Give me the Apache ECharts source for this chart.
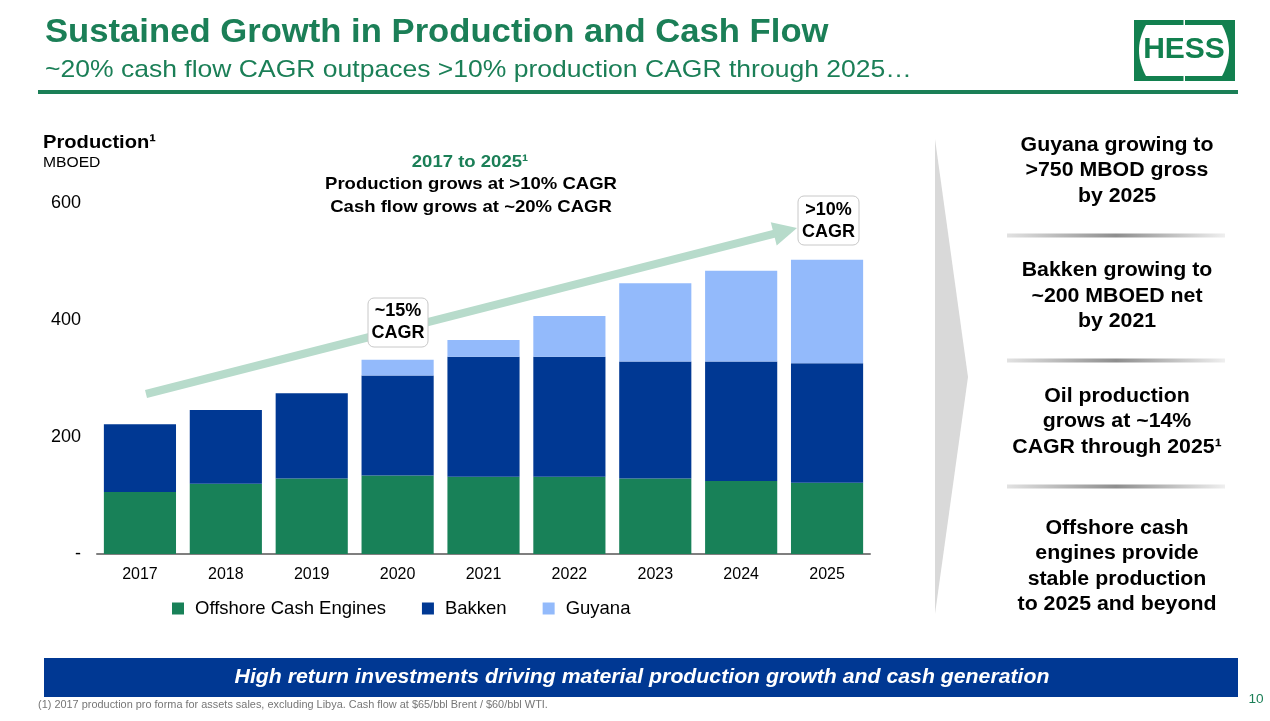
<!DOCTYPE html>
<html>
<head>
<meta charset="utf-8">
<script src="https://cdn.jsdelivr.net/npm/echarts@6/dist/echarts.min.js"></script>
<style>
html,body{margin:0;padding:0;background:#fff;}
#c{width:1270px;height:721px;}
</style>
</head>
<body>
<div id="c"></div>
<script>
const years = ['2017','2018','2019','2020','2021','2022','2023','2024','2025'];
const offshore = [106,120,129,134,132,132,129,125,122];
const bakken = [116,126,146,171,205,205,200,204,204];
const guyana = [0,0,0,27,29,70,134,155,177];
const yTicks = [0,200,400,600];
const seriesNames = ['Offshore Cash Engines','Bakken','Guyana'];

const FF = "'Liberation Sans', Arial, sans-serif";
const GREEN = '#1B7F57';
const BAR_GREEN = '#188158';
const BAR_BLUE = '#003893';
const BAR_LIGHT = '#93BAFB';

function txt(x, y, text, opt) {
  opt = opt || {};
  return {
    type: 'text', x: x, y: y, z: opt.z || 20,
    scaleX: opt.sx || 1.0, scaleY: 1,
    style: {
      text: text,
      font: (opt.italic ? 'italic ' : '') + (opt.bold ? 'bold ' : '') + (opt.size || 16) + 'px ' + FF,
      fill: opt.color || '#000',
      align: opt.align || 'left', textAlign: opt.align || 'left',
      verticalAlign: 'middle', textVerticalAlign: 'middle',
      lineHeight: opt.lh || undefined
    }
  };
}

// logo inner barrel shape points (decoration)
function barrel() {
  const pts = [];
  const top = 25, bot = 76, xl = 1146, xr = 1222, bulge = 7;
  pts.push([xl, top], [xr, top]);
  for (let i = 1; i < 20; i++) {
    const t = i / 20, y = top + (bot - top) * t;
    pts.push([xr + bulge * 4 * t * (1 - t), y]);
  }
  pts.push([xr, bot], [xl, bot]);
  for (let i = 19; i > 0; i--) {
    const t = i / 20, y = top + (bot - top) * t;
    pts.push([xl - bulge * 4 * t * (1 - t), y]);
  }
  return pts;
}

// arrow geometry (decoration)
const tip = [797, 228], start = [146, 394];
const dx = tip[0]-start[0], dy = tip[1]-start[1], L = Math.hypot(dx, dy);
const ux = dx/L, uy = dy/L, nx = -uy, ny = ux;
const hl = 24, hw = 12;
const bx = tip[0]-hl*ux, by = tip[1]-hl*uy;

const graphics = [
  // title
  txt(45, 32.5, 'Sustained Growth in Production and Cash Flow', {bold:true, size:33, color:GREEN, sx:1.05}),
  txt(45, 70, '~20% cash flow CAGR outpaces >10% production CAGR through 2025\u2026', {size:24, color:GREEN, sx:1.105}),
  {type:'rect', shape:{x:38, y:90, width:1200, height:4}, style:{fill:GREEN}},
  // logo
  {type:'rect', shape:{x:1134, y:20, width:101, height:61}, style:{fill:'#12804F'}},
  {type:'polygon', shape:{points: barrel()}, style:{fill:'#fff'}},
  {type:'rect', shape:{x:1183.5, y:20, width:1.5, height:5}, style:{fill:'#fff'}},
  {type:'rect', shape:{x:1183.5, y:76, width:1.5, height:5}, style:{fill:'#fff'}},
  txt(1184, 50, 'HESS', {bold:true, size:30, color:'#12804F', align:'center', sx:1.0}),
  // y-axis title
  txt(43, 143, 'Production\u00B9', {bold:true, size:19, sx:1.06}),
  txt(43, 163, 'MBOED', {size:14.5, sx:1.08}),
  // annotation
  txt(470, 162, '2017 to 2025\u00B9', {bold:true, size:17, color:GREEN, align:'center', sx:1.09}),
  txt(471, 184.5, 'Production grows at >10% CAGR', {bold:true, size:17, align:'center', sx:1.09}),
  txt(471, 207, 'Cash flow grows at ~20% CAGR', {bold:true, size:17, align:'center', sx:1.09}),
  // arrow
  {type:'line', z:5, shape:{x1:start[0], y1:start[1], x2:bx+2*ux, y2:by+2*uy}, style:{stroke:'#B7DBCB', lineWidth:8}},
  {type:'polygon', z:5, shape:{points:[[tip[0],tip[1]],[bx+hw*nx,by+hw*ny],[bx-hw*nx,by-hw*ny]]}, style:{fill:'#B7DBCB'}},
  // CAGR boxes
  {type:'rect', z:10, shape:{x:368, y:298, width:60, height:49, r:6}, style:{fill:'#fff', stroke:'#C8C8C8', lineWidth:1}},
  txt(398, 322, '~15%\nCAGR', {bold:true, size:18, align:'center', lh:22, sx:1.0}),
  {type:'rect', z:10, shape:{x:798, y:196, width:61, height:49, r:6}, style:{fill:'#fff', stroke:'#C8C8C8', lineWidth:1}},
  txt(828.5, 221, '>10%\nCAGR', {bold:true, size:18, align:'center', lh:22, sx:1.0}),
  // chevron
  {type:'polygon', shape:{points:[[935,139],[968,377],[935,614]]}, style:{fill:'#D9D9D9'}},
  // right texts
  txt(1117, 170.5, 'Guyana growing to\n>750 MBOD gross\nby 2025', {bold:true, size:20, align:'center', lh:25.5, sx:1.065}),
  txt(1117, 296, 'Bakken growing to\n~200 MBOED net\nby 2021', {bold:true, size:20, align:'center', lh:25.5, sx:1.065}),
  txt(1117, 421.5, 'Oil production\ngrows at ~14%\nCAGR through 2025\u00B9', {bold:true, size:20, align:'center', lh:25.5, sx:1.065}),
  txt(1117, 566.5, 'Offshore cash\nengines provide\nstable production\nto 2025 and beyond', {bold:true, size:20, align:'center', lh:25.5, sx:1.065}),
];
[233.5, 358.5, 484.5].forEach(function(y){
  graphics.push({type:'rect', shape:{x:1007, y:y, width:218, height:4},
    style:{fill:{type:'linear', x:0, y:0, x2:1, y2:0, colorStops:[{offset:0,color:'#E2E2E2'},{offset:0.5,color:'#8E8E8E'},{offset:1,color:'#EFEFEF'}]}}});
});
graphics.push(
  {type:'rect', shape:{x:44, y:658, width:1194, height:39}, style:{fill:'#003893'}},
  txt(642, 678, 'High return investments driving material production growth and cash generation', {bold:true, italic:true, size:19.5, color:'#fff', align:'center', sx:1.09}),
  txt(38, 705.5, '(1) 2017 production pro forma for assets sales, excluding Libya. Cash flow at $65/bbl Brent / $60/bbl WTI.', {size:10.5, color:'#767676', sx:1.04}),
  txt(1256, 699, '10', {size:13, color:GREEN, align:'center', sx:1.05})
);

const chart = echarts.init(document.getElementById('c'), null, {renderer:'canvas'});
chart.setOption({
  animation: false,
  backgroundColor: '#fff',
  textStyle: {fontFamily: FF},
  grid: {left:97, right:400, top:203, bottom:167, containLabel:false},
  legend: {
    data: seriesNames, left: 172, top: 599, padding: 0, icon: 'rect',
    itemWidth: 12, itemHeight: 12, itemGap: 36,
    textStyle: {fontSize: 18.5, color: '#000', fontFamily: FF, padding: [0,0,0,6]}
  },
  xAxis: {
    type: 'category', data: years,
    axisLine: {lineStyle: {color: '#7F7F7F', width: 2}},
    axisTick: {show: false},
    axisLabel: {fontSize: 16, color: '#000', margin: 13, fontFamily: FF}
  },
  yAxis: {
    type: 'value', min: yTicks[0], max: yTicks[yTicks.length-1], interval: yTicks[1]-yTicks[0],
    axisLine: {show: false}, axisTick: {show: false}, splitLine: {show: false},
    axisLabel: {fontSize: 18, color: '#000', margin: 16, fontFamily: FF,
      formatter: function(v){ return v === 0 ? '-' : String(v); }}
  },
  series: [
    {name: seriesNames[0], type: 'bar', stack: 'p', data: offshore, barCategoryGap: '16%', itemStyle: {color: BAR_GREEN}},
    {name: seriesNames[1], type: 'bar', stack: 'p', data: bakken, itemStyle: {color: BAR_BLUE}},
    {name: seriesNames[2], type: 'bar', stack: 'p', data: guyana, itemStyle: {color: BAR_LIGHT}}
  ],
  graphic: {elements: graphics}
});
</script>
</body>
</html>
